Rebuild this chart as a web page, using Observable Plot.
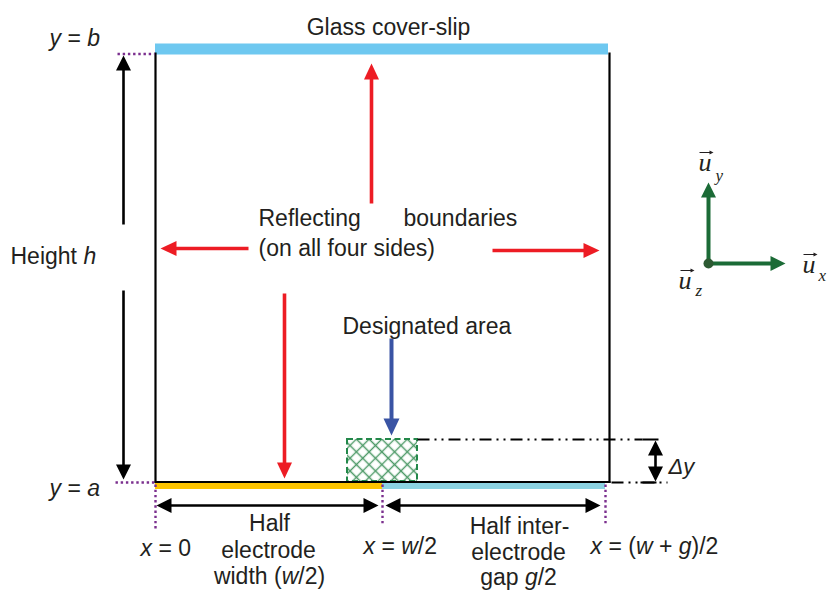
<!DOCTYPE html>
<html><head><meta charset="utf-8">
<script src="https://cdn.jsdelivr.net/npm/d3@7"></script>
<script src="https://cdn.jsdelivr.net/npm/@observablehq/plot@0.6"></script>
<style>body{margin:0;background:#fff} #chart svg{display:block}</style>
</head><body><div id="chart"></div>
<script>
// Diagram coordinate space (units = canvas units, y grows downward)
const W = 828, H = 590;

// Filled regions of the simulation domain
const regions = [
  {name: "Glass cover-slip", kind: "glass", x1: 155, x2: 608, y1: 43.5, y2: 54.5},
  {name: "Half electrode", kind: "electrode", x1: 155, x2: 382, y1: 482.5, y2: 489},
  {name: "Half inter-electrode gap", kind: "gap", x1: 382, x2: 605, y1: 482.5, y2: 489},
  {name: "Designated area", kind: "designated", x1: 347, x2: 417, y1: 439, y2: 481}
];

// Solid walls of the box
const walls = [
  {x1: 155, y1: 52, x2: 155, y2: 482.5},
  {x1: 609, y1: 52, x2: 609, y2: 482.5},
  {x1: 154, y1: 481.5, x2: 610, y2: 481.5}
];

// Purple dotted guide lines
const guides = [
  {x1: 117, y1: 53.5, x2: 154, y2: 53.5},
  {x1: 115, y1: 482, x2: 154, y2: 482},
  {x1: 155, y1: 484, x2: 155, y2: 528},
  {x1: 382, y1: 484, x2: 382, y2: 524},
  {x1: 605, y1: 484, x2: 605, y2: 524}
];

// Dash-dot extension lines for Δy, and their solid ticks
const dashDot = [
  {x1: 417, y1: 439, x2: 642, y2: 439},
  {x1: 611, y1: 482, x2: 667, y2: 482}
];
const ticks = [
  {x1: 642, y1: 439, x2: 658, y2: 439},
  {x1: 640, y1: 482, x2: 656, y2: 482}
];

// Arrows: from (x1,y1) to tip (x2,y2); both = double-headed
const arrows = [
  {kind: "red", x1: 371, y1: 203, x2: 371, y2: 63},
  {kind: "red", x1: 248, y1: 248, x2: 160, y2: 248},
  {kind: "red", x1: 492, y1: 250, x2: 599, y2: 250},
  {kind: "red", x1: 284, y1: 293, x2: 284, y2: 478},
  {kind: "black", x1: 123, y1: 224, x2: 123, y2: 55},
  {kind: "black", x1: 123, y1: 290, x2: 123, y2: 479},
  {kind: "black", x1: 156, y1: 505, x2: 378, y2: 505, both: true},
  {kind: "black", x1: 385, y1: 505, x2: 600, y2: 505, both: true},
  {kind: "black", x1: 655, y1: 440, x2: 655, y2: 481, both: true},
  {kind: "blue", x1: 391, y1: 338, x2: 391, y2: 435},
  {kind: "green", x1: 708, y1: 263, x2: 708, y2: 182},
  {kind: "green", x1: 708, y1: 263, x2: 785, y2: 263},
  {kind: "vec", x1: 699, y1: 152, x2: 713, y2: 152},
  {kind: "vec", x1: 803, y1: 254, x2: 817, y2: 254},
  {kind: "vec", x1: 680, y1: 270, x2: 694, y2: 270}
];
const origin = [{x: 708, y: 263}];

// Text labels (y = baseline); _..._ marks italic runs
const labelsStart = [
  {x: 258, y: 225, text: "Reflecting"},
  {x: 403, y: 225, text: "boundaries"},
  {x: 258, y: 255, text: "(on all four sides)"},
  {x: 342, y: 333, text: "Designated area"},
  {x: 10, y: 263, text: "Height _h_"},
  {x: 49, y: 45, text: "_y_ = _b_"},
  {x: 49, y: 495, text: "_y_ = _a_"},
  {x: 140, y: 555, text: "_x_ = 0"},
  {x: 363, y: 553, text: "_x_ = _w_/2"},
  {x: 590, y: 553, text: "_x_ = (_w_ + _g_)/2"}
];
const labelsMiddle = [
  {x: 388, y: 34, text: "Glass cover-slip"},
  {x: 269, y: 530, text: "Half"},
  {x: 268, y: 557, text: "electrode"},
  {x: 269, y: 583, text: "width (_w_/2)"},
  {x: 519, y: 533, text: "Half inter-"},
  {x: 518, y: 559, text: "electrode"},
  {x: 518, y: 584, text: "gap _g_/2"}
];
const deltaLabel = [{x: 668, y: 473, text: "_Δy_"}];
const vecLabels = [
  {x: 698, y: 170, text: "u"},
  {x: 802, y: 272, text: "u"},
  {x: 678, y: 288, text: "u"}
];
const vecSubs = [
  {x: 715, y: 180, text: "y"},
  {x: 818, y: 280, text: "x"},
  {x: 695, y: 295, text: "z"}
];

// ---------- styles ----------
const fill = {glass: "#6EC8F0", electrode: "#FDC400", gap: "#8CD3E2"};
const arrowStyle = {
  red:   {color: "#ED1C24", w: 3.6, hl: 16, hw: 7.5},
  black: {color: "#000000", w: 2.6, hl: 15, hw: 7.5},
  blue:  {color: "#3A54A4", w: 4,   hl: 17, hw: 8},
  green: {color: "#1B6B36", w: 4,   hl: 15, hw: 7.5},
  vec:   {color: "#231F20", w: 1,   hl: 4,  hw: 2}
};
const textColor = "#231F20";
const sans = "Liberation Sans, Arial, Helvetica, sans-serif";
const serif = "Liberation Serif, Times New Roman, serif";
const FS = 23;

// Build shafts and heads
const shafts = [], headPts = [];
arrows.forEach((a, i) => {
  const s = arrowStyle[a.kind];
  const dx = a.x2 - a.x1, dy = a.y2 - a.y1, L = Math.hypot(dx, dy);
  const ux = dx / L, uy = dy / L, px = -uy, py = ux;
  const head = (tx, ty, dirx, diry, id) => {
    const bx = tx - dirx * s.hl, by = ty - diry * s.hl;
    headPts.push({id, x: tx, y: ty, c: s.color});
    headPts.push({id, x: bx + px * s.hw, y: by + py * s.hw, c: s.color});
    headPts.push({id, x: bx - px * s.hw, y: by - py * s.hw, c: s.color});
    return [bx + dirx * 2, by + diry * 2];
  };
  const [ex, ey] = head(a.x2, a.y2, ux, uy, i + "e");
  let sx = a.x1, sy = a.y1;
  if (a.both) [sx, sy] = head(a.x1, a.y1, -ux, -uy, i + "s");
  shafts.push({x1: sx, y1: sy, x2: ex, y2: ey, c: s.color, w: s.w});
});

const plot = Plot.plot({
  width: W, height: H,
  margin: 0,
  x: {domain: [0, W], range: [0, W], axis: null},
  y: {domain: [0, H], range: [0, H], axis: null},
  color: {type: "identity"},
  style: {background: "white", fontFamily: sans},
  marks: [
    Plot.rect(regions.filter(d => d.kind !== "designated"), {x1: "x1", x2: "x2", y1: "y1", y2: "y2", fill: d => fill[d.kind]}),
    Plot.rect(regions.filter(d => d.kind === "designated"), {x1: "x1", x2: "x2", y1: "y1", y2: "y2", fill: "url(#hatch)", stroke: "#23884A", strokeWidth: 2, strokeDasharray: "6,3.5"}),
    Plot.link(walls, {x1: "x1", y1: "y1", x2: "x2", y2: "y2", stroke: "#000", strokeWidth: 2.2}),
    Plot.link(guides, {x1: "x1", y1: "y1", x2: "x2", y2: "y2", stroke: "#7B2F8E", strokeWidth: 2.4, strokeDasharray: "2.4,2.8"}),
    Plot.link(dashDot, {x1: "x1", y1: "y1", x2: "x2", y2: "y2", stroke: "#000", strokeWidth: 1.8, strokeDasharray: "12,5,2,5,2,5"}),
    Plot.link(ticks, {x1: "x1", y1: "y1", x2: "x2", y2: "y2", stroke: "#000", strokeWidth: 2}),
    Plot.link(shafts, {x1: "x1", y1: "y1", x2: "x2", y2: "y2", stroke: "c", strokeWidth: "w"}),
    Plot.line(headPts, {x: "x", y: "y", z: "id", fill: "c", stroke: "none", curve: "linear-closed"}),
    Plot.dot(origin, {x: "x", y: "y", r: 5, fill: "#2D5A33"}),
    Plot.text(labelsStart, {x: "x", y: "y", text: "text", textAnchor: "start", fontSize: FS, fontFamily: sans, fill: textColor, dy: -0.32 * FS}),
    Plot.text(labelsMiddle, {x: "x", y: "y", text: "text", textAnchor: "middle", fontSize: FS, fontFamily: sans, fill: textColor, dy: -0.32 * FS}),
    Plot.text(deltaLabel, {x: "x", y: "y", text: "text", textAnchor: "start", fontSize: 22, fontFamily: sans, fill: textColor, dy: -0.32 * 22}),
    Plot.text(vecLabels, {x: "x", y: "y", text: "text", textAnchor: "start", fontSize: 26, fontFamily: serif, fontStyle: "italic", fill: textColor, dy: -0.32 * 26}),
    Plot.text(vecSubs, {x: "x", y: "y", text: "text", textAnchor: "start", fontSize: 17, fontFamily: serif, fontStyle: "italic", fill: textColor, dy: -0.32 * 17})
  ]
});

// hatch pattern definition
const ns = "http://www.w3.org/2000/svg";
const svg = d3.select(plot);
const pat = svg.insert("defs", ":first-child").append("pattern")
  .attr("id", "hatch").attr("patternUnits", "userSpaceOnUse")
  .attr("width", 9).attr("height", 9).attr("patternTransform", "rotate(45)");
pat.append("path").attr("d", "M0,4.5H9M4.5,0V9").attr("stroke", "#4E9A68").attr("stroke-width", 1.4).attr("fill", "none");

// italic runs
plot.querySelectorAll("text").forEach(t => {
  const s = t.textContent;
  if (!s.includes("_")) return;
  const parts = s.split("_");
  while (t.firstChild) t.removeChild(t.firstChild);
  parts.forEach((p, i) => {
    if (!p) return;
    const ts = document.createElementNS(ns, "tspan");
    if (i % 2) ts.setAttribute("font-style", "italic");
    ts.textContent = p;
    t.appendChild(ts);
  });
});

document.getElementById("chart").appendChild(plot);
</script>
</body></html>
